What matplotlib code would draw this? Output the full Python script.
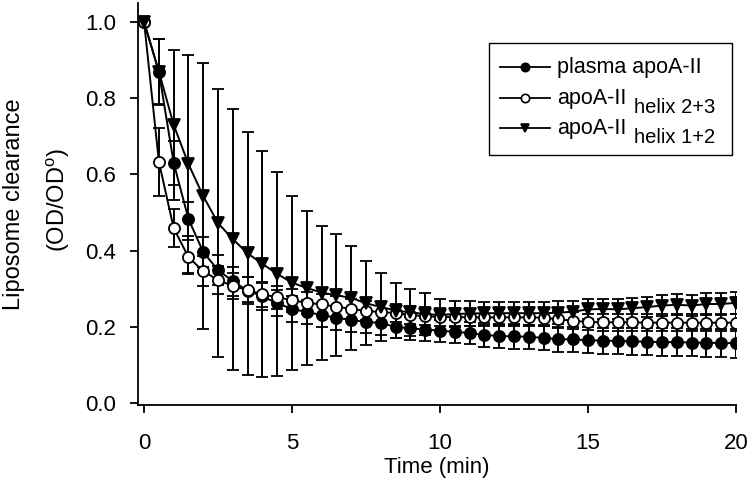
import numpy as np
import matplotlib.pyplot as plt
from matplotlib.lines import Line2D
from matplotlib.patches import Rectangle
from matplotlib.text import Annotation

plt.rcParams['font.family'] = ['Liberation Sans', 'DejaVu Sans']
plt.rcParams['mathtext.fontset'] = 'custom'
plt.rcParams['mathtext.rm'] = 'Liberation Sans'
plt.rcParams['mathtext.it'] = 'Liberation Sans'

# time points (min)
time = np.arange(0, 20.01, 0.5)

# plasma apoA-II (filled circles)
plasma = [1.0, 0.869, 0.63, 0.483, 0.396, 0.349, 0.32, 0.295, 0.28, 0.262,
          0.247, 0.239, 0.231, 0.224, 0.218, 0.213, 0.21, 0.2, 0.196, 0.193,
          0.19, 0.187, 0.184, 0.179, 0.176, 0.175, 0.174, 0.171, 0.168, 0.167,
          0.165, 0.164, 0.163, 0.162, 0.161, 0.16, 0.16, 0.159, 0.158, 0.158,
          0.157]
plasma_err = [0.0, 0.086, 0.058, 0.045, 0.04, 0.04, 0.038, 0.036, 0.035, 0.034,
              0.033, 0.032, 0.032, 0.032, 0.031, 0.03, 0.03, 0.03, 0.03, 0.03,
              0.029, 0.03, 0.03, 0.031, 0.031, 0.032, 0.032, 0.032, 0.033, 0.033,
              0.034, 0.034, 0.035, 0.035, 0.035, 0.036, 0.036, 0.036, 0.037, 0.037,
              0.038]

# apoA-II helix 2+3 (open circles)
h23 = [1.0, 0.633, 0.459, 0.383, 0.346, 0.323, 0.307, 0.297, 0.285, 0.278,
       0.27, 0.263, 0.259, 0.253, 0.247, 0.242, 0.239, 0.236, 0.231, 0.228,
       0.226, 0.226, 0.225, 0.225, 0.225, 0.225, 0.225, 0.224, 0.22, 0.216,
       0.213, 0.212, 0.212, 0.212, 0.211, 0.211, 0.211, 0.211, 0.211, 0.211,
       0.211]
h23_err = [0.0, 0.09, 0.05, 0.045, 0.04, 0.037, 0.035, 0.033, 0.032, 0.03,
           0.03, 0.029, 0.028, 0.027, 0.026, 0.025, 0.025, 0.024, 0.024, 0.023,
           0.023, 0.023, 0.022, 0.022, 0.022, 0.022, 0.022, 0.022, 0.022, 0.022,
           0.022, 0.022, 0.022, 0.022, 0.022, 0.022, 0.022, 0.022, 0.022, 0.022,
           0.022]

# apoA-II helix 1+2 (triangles)
h12 = [1.0, 0.87, 0.73, 0.627, 0.543, 0.472, 0.43, 0.393, 0.365, 0.339,
       0.316, 0.302, 0.29, 0.283, 0.276, 0.262, 0.252, 0.243, 0.238, 0.234,
       0.231, 0.234, 0.235, 0.236, 0.236, 0.236, 0.236, 0.236, 0.237, 0.24,
       0.246, 0.247, 0.246, 0.249, 0.252, 0.256, 0.258, 0.256, 0.26, 0.26,
       0.263]
h12_err = [0.0, 0.085, 0.197, 0.286, 0.349, 0.352, 0.342, 0.318, 0.296, 0.267,
           0.228, 0.201, 0.176, 0.16, 0.137, 0.11, 0.09, 0.072, 0.062, 0.056,
           0.042, 0.035, 0.032, 0.03, 0.03, 0.03, 0.03, 0.03, 0.03, 0.028,
           0.026, 0.026, 0.026, 0.027, 0.027, 0.028, 0.028, 0.028, 0.028, 0.028,
           0.028]

# legend entries: (main text, subscript, marker, face colour)
leg_main = ['plasma apoA-II', 'apoA-II', 'apoA-II']
leg_sub = ['', 'helix 2+3', 'helix 1+2']
leg_marker = ['o', 'o', 'v']
leg_face = ['black', 'white', 'black']

W, H = 751, 500
fig = plt.figure(figsize=(W / 100, H / 100), dpi=100)
ax = fig.add_axes([0.184, 0.19, 0.796, 0.804])

style = dict(color='black', lw=1.4, capsize=4.5, elinewidth=1.4, capthick=1.4,
             markersize=8, markeredgewidth=1.3)
ax.errorbar(time, plasma, yerr=plasma_err, fmt='-o', mfc='black', mec='black', **style)
ax.errorbar(time, h23, yerr=h23_err, fmt='-o', mfc='white', mec='black', **style)
ax.errorbar(time, h12, yerr=h12_err, fmt='-v', mfc='black', mec='black', **style)

ax.set_xlim(-0.2, 20)
ax.set_ylim(-0.005, 1.05)
ax.set_xticks([0, 5, 10, 15, 20])
ax.set_yticks([0.0, 0.2, 0.4, 0.6, 0.8, 1.0])
ax.set_yticklabels(['0.0', '0.2', '0.4', '0.6', '0.8', '1.0'])
ax.spines['top'].set_visible(False)
ax.spines['right'].set_visible(False)
ax.spines['left'].set_linewidth(1.3)
ax.spines['bottom'].set_linewidth(1.3)
ax.tick_params(direction='out', length=6, width=1.3, labelsize=16)
ax.tick_params(axis='y', pad=10)
ax.tick_params(axis='x', pad=14)

ax.set_xlabel('Time (min)', fontsize=16, labelpad=2)
fig.text(14 / W, 1 - 204 / H, 'Liposome clearance', rotation=90, fontsize=17,
         ha='center', va='center')
fig.text(58 / W, 1 - 200 / H, '(OD/OD$^{\\mathrm{o}}$)', rotation=90, fontsize=17,
         ha='center', va='center')

# legend box drawn by hand so the subscripts can sit like the original
fig.add_artist(Rectangle((489 / W, 1 - 155 / H), 243 / W, 112 / H,
                         transform=fig.transFigure, facecolor='white',
                         edgecolor='black', lw=1.0, zorder=5))
rows = [67, 98, 128]
for i, row in enumerate(rows):
    y = 1 - row / H
    fig.add_artist(Line2D([500 / W, 550 / W], [y, y], transform=fig.transFigure,
                          color='black', lw=1.3, zorder=6))
    fig.add_artist(Line2D([525 / W], [y], transform=fig.transFigure,
                          marker=leg_marker[i], markersize=6, color='black',
                          mfc=leg_face[i], mec='black', mew=1.2, zorder=7))
    t = fig.text(557 / W, 1 - (row + 6) / H, leg_main[i], fontsize=15.5,
                 ha='left', va='baseline', zorder=7)
    if leg_sub[i]:
        fig.add_artist(Annotation(leg_sub[i], xy=(1, 0), xycoords=t,
                                  xytext=(8, -4), textcoords='offset pixels',
                                  fontsize=14.5, ha='left', va='baseline',
                                  zorder=7))

fig.savefig('out.png', dpi=100)
